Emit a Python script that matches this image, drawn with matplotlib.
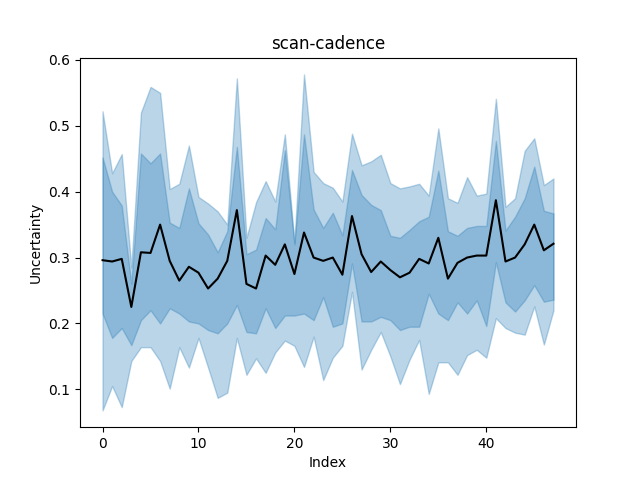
import numpy as np
import matplotlib
matplotlib.use('Agg')
import matplotlib.pyplot as plt

mean = [0.296, 0.294, 0.298, 0.225, 0.308, 0.307, 0.350, 0.295, 0.265, 0.286,
        0.277, 0.253, 0.268, 0.295, 0.372, 0.260, 0.253, 0.303, 0.289, 0.320,
        0.275, 0.338, 0.300, 0.295, 0.300, 0.274, 0.363, 0.305, 0.278, 0.294,
        0.281, 0.270, 0.277, 0.298, 0.291, 0.330, 0.268, 0.292, 0.300, 0.303,
        0.303, 0.387, 0.294, 0.300, 0.320, 0.350, 0.311, 0.321]
outer_hi = [0.522, 0.428, 0.457, 0.285, 0.520, 0.559, 0.550, 0.404, 0.412, 0.470,
            0.392, 0.382, 0.370, 0.350, 0.572, 0.330, 0.384, 0.416, 0.385, 0.487,
            0.323, 0.578, 0.430, 0.413, 0.406, 0.385, 0.488, 0.440, 0.446, 0.456,
            0.413, 0.405, 0.408, 0.412, 0.394, 0.496, 0.390, 0.383, 0.422, 0.394,
            0.397, 0.541, 0.377, 0.390, 0.462, 0.481, 0.410, 0.420]
inner_hi = [0.452, 0.400, 0.379, 0.260, 0.458, 0.443, 0.458, 0.353, 0.345, 0.405,
            0.352, 0.335, 0.308, 0.340, 0.468, 0.305, 0.312, 0.360, 0.343, 0.463,
            0.320, 0.487, 0.373, 0.345, 0.368, 0.334, 0.433, 0.395, 0.380, 0.372,
            0.333, 0.330, 0.342, 0.355, 0.362, 0.432, 0.340, 0.333, 0.345, 0.348,
            0.348, 0.477, 0.341, 0.362, 0.390, 0.438, 0.371, 0.367]
inner_lo = [0.215, 0.178, 0.193, 0.167, 0.205, 0.220, 0.200, 0.223, 0.215, 0.203,
            0.200, 0.190, 0.185, 0.200, 0.228, 0.187, 0.185, 0.223, 0.193, 0.212,
            0.212, 0.215, 0.205, 0.240, 0.195, 0.200, 0.291, 0.203, 0.203, 0.210,
            0.205, 0.190, 0.195, 0.195, 0.245, 0.215, 0.205, 0.232, 0.215, 0.235,
            0.196, 0.293, 0.232, 0.218, 0.235, 0.258, 0.233, 0.236]
outer_lo = [0.068, 0.105, 0.073, 0.143, 0.164, 0.164, 0.143, 0.101, 0.164, 0.133,
            0.178, 0.133, 0.087, 0.095, 0.178, 0.122, 0.147, 0.125, 0.156, 0.174,
            0.166, 0.134, 0.180, 0.114, 0.148, 0.166, 0.248, 0.130, 0.160, 0.187,
            0.150, 0.108, 0.145, 0.175, 0.093, 0.141, 0.141, 0.122, 0.152, 0.160,
            0.148, 0.208, 0.193, 0.186, 0.183, 0.226, 0.168, 0.220]

x = np.arange(len(mean))

fig, ax = plt.subplots(figsize=(6.4, 4.8), dpi=100)
ax.fill_between(x, outer_lo, outer_hi, color='C0', alpha=0.3)
ax.fill_between(x, inner_lo, inner_hi, color='C0', alpha=0.3)
ax.plot(x, mean, color='black')
ax.set_title('scan-cadence')
ax.set_xlabel('Index')
ax.set_ylabel('Uncertainty')
fig.savefig('out.png')
